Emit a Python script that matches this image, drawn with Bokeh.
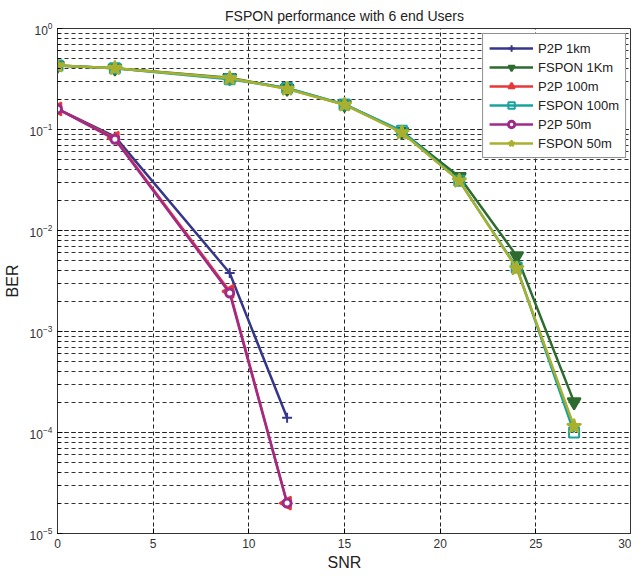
import math
from bokeh.plotting import figure
from bokeh.models import Legend, LegendItem, FixedTicker, ColumnDataSource
from bokeh.embed import file_html
from bokeh.resources import INLINE

snr_p2p = [0, 3, 9, 12]
snr_fspon = [0, 3, 9, 12, 15, 18, 21, 24, 27]

p2p_1km = [0.16, 0.085, 0.0038, 1.4e-4]
p2p_100m = [0.16, 0.082, 0.0025, 2.0e-5]
p2p_50m = [0.16, 0.080, 0.0024, 2.0e-5]
fspon_1km = [0.43, 0.405, 0.325, 0.255, 0.177, 0.095, 0.034, 0.0056, 2.0e-4]
fspon_100m = [0.43, 0.405, 0.315, 0.258, 0.177, 0.097, 0.031, 0.0043, 1.0e-4]
fspon_50m = [0.43, 0.405, 0.322, 0.252, 0.176, 0.093, 0.031, 0.0042, 1.15e-4]

x_ticks = [0, 5, 10, 15, 20, 25, 30]

FONT = "Liberation Sans"

p = figure(width=628, height=564, frame_width=574, frame_height=505,
           y_axis_type="log", x_range=(0, 30), y_range=(1e-5, 1),
           output_backend="svg", toolbar_location=None,
           min_border_left=54, min_border_right=0, min_border_top=28, min_border_bottom=31,
           title="FSPON performance with 6 end Users")
p.title.align = "center"
p.title.text_font = FONT
p.title.text_font_size = "14px"
p.title.text_font_style = "normal"
p.title.text_color = "#222222"

p.outline_line_color = "#333333"
p.outline_line_width = 1

for ax in (p.xaxis, p.yaxis):
    ax.axis_line_color = "#333333"
    ax.major_tick_in = 5
    ax.major_tick_out = 0
    ax.minor_tick_in = 3
    ax.minor_tick_out = 0
    ax.major_label_text_font = FONT
    ax.major_label_text_font_size = "12px"
    ax.major_label_text_color = "#333333"
    ax.axis_label_text_font = FONT
    ax.axis_label_text_font_size = "16px"
    ax.axis_label_text_font_style = "normal"
    ax.axis_label_text_color = "#222222"

p.xaxis.ticker = FixedTicker(ticks=x_ticks)
p.xaxis.minor_tick_line_color = None
p.xaxis.axis_label = "SNR"
p.xaxis.axis_label_standoff = 3
p.yaxis.axis_label = "BER"
p.yaxis.axis_label_standoff = 6

p.xgrid.grid_line_color = "#222222"
p.xgrid.grid_line_dash = "4 3"
p.xgrid.grid_line_width = 1
p.ygrid.grid_line_color = "#222222"
p.ygrid.grid_line_dash = "4 3"
p.ygrid.minor_grid_line_color = "#333333"
p.ygrid.minor_grid_line_dash = "4 3"

items = []

def series(x, y, color, label, marker, size, fill, lw=2.5, angle=0.0, fill_alpha=1.0, mlw=2):
    src = ColumnDataSource(dict(x=x, y=y, a=[angle] * len(x)))
    l = p.line("x", "y", source=src, line_color=color, line_width=lw)
    s = p.scatter("x", "y", source=src, marker=marker, size=size, line_color=color,
                  fill_color=fill, fill_alpha=fill_alpha, line_width=mlw, angle="a")
    items.append(LegendItem(label=label, renderers=[l, s], index=0))

series(snr_p2p, p2p_1km, "#36378a", "P2P 1km", "cross", 10, "#36378a")
series(snr_fspon, fspon_1km, "#2d6b2f", "FSPON 1Km", "inverted_triangle", 13, "#2d6b2f")
series(snr_p2p, p2p_100m, "#e8373a", "P2P 100m", "triangle", 13, "#e8373a", angle=math.pi / 2)
series(snr_fspon, fspon_100m, "#1aa39e", "FSPON 100m", "square", 10, "white", fill_alpha=0.0)
series(snr_p2p, p2p_50m, "#a02a88", "P2P 50m", "circle", 8, "white", mlw=3)
series(snr_fspon, fspon_50m, "#a9b02e", "FSPON 50m", "star", 15, "#a9b02e")

legend = Legend(items=items, location="top_right")
legend.label_text_font = FONT
legend.label_text_font_size = "13px"
legend.label_text_color = "#222222"
legend.glyph_width = 44
legend.glyph_height = 16
legend.label_height = 16
legend.spacing = 3
legend.padding = 6
legend.margin = 5
legend.border_line_color = "#222222"
legend.border_line_width = 1
legend.background_fill_color = "white"
legend.background_fill_alpha = 1.0
p.add_layout(legend, "center")

open("out.html", "w").write(file_html(p, INLINE))
